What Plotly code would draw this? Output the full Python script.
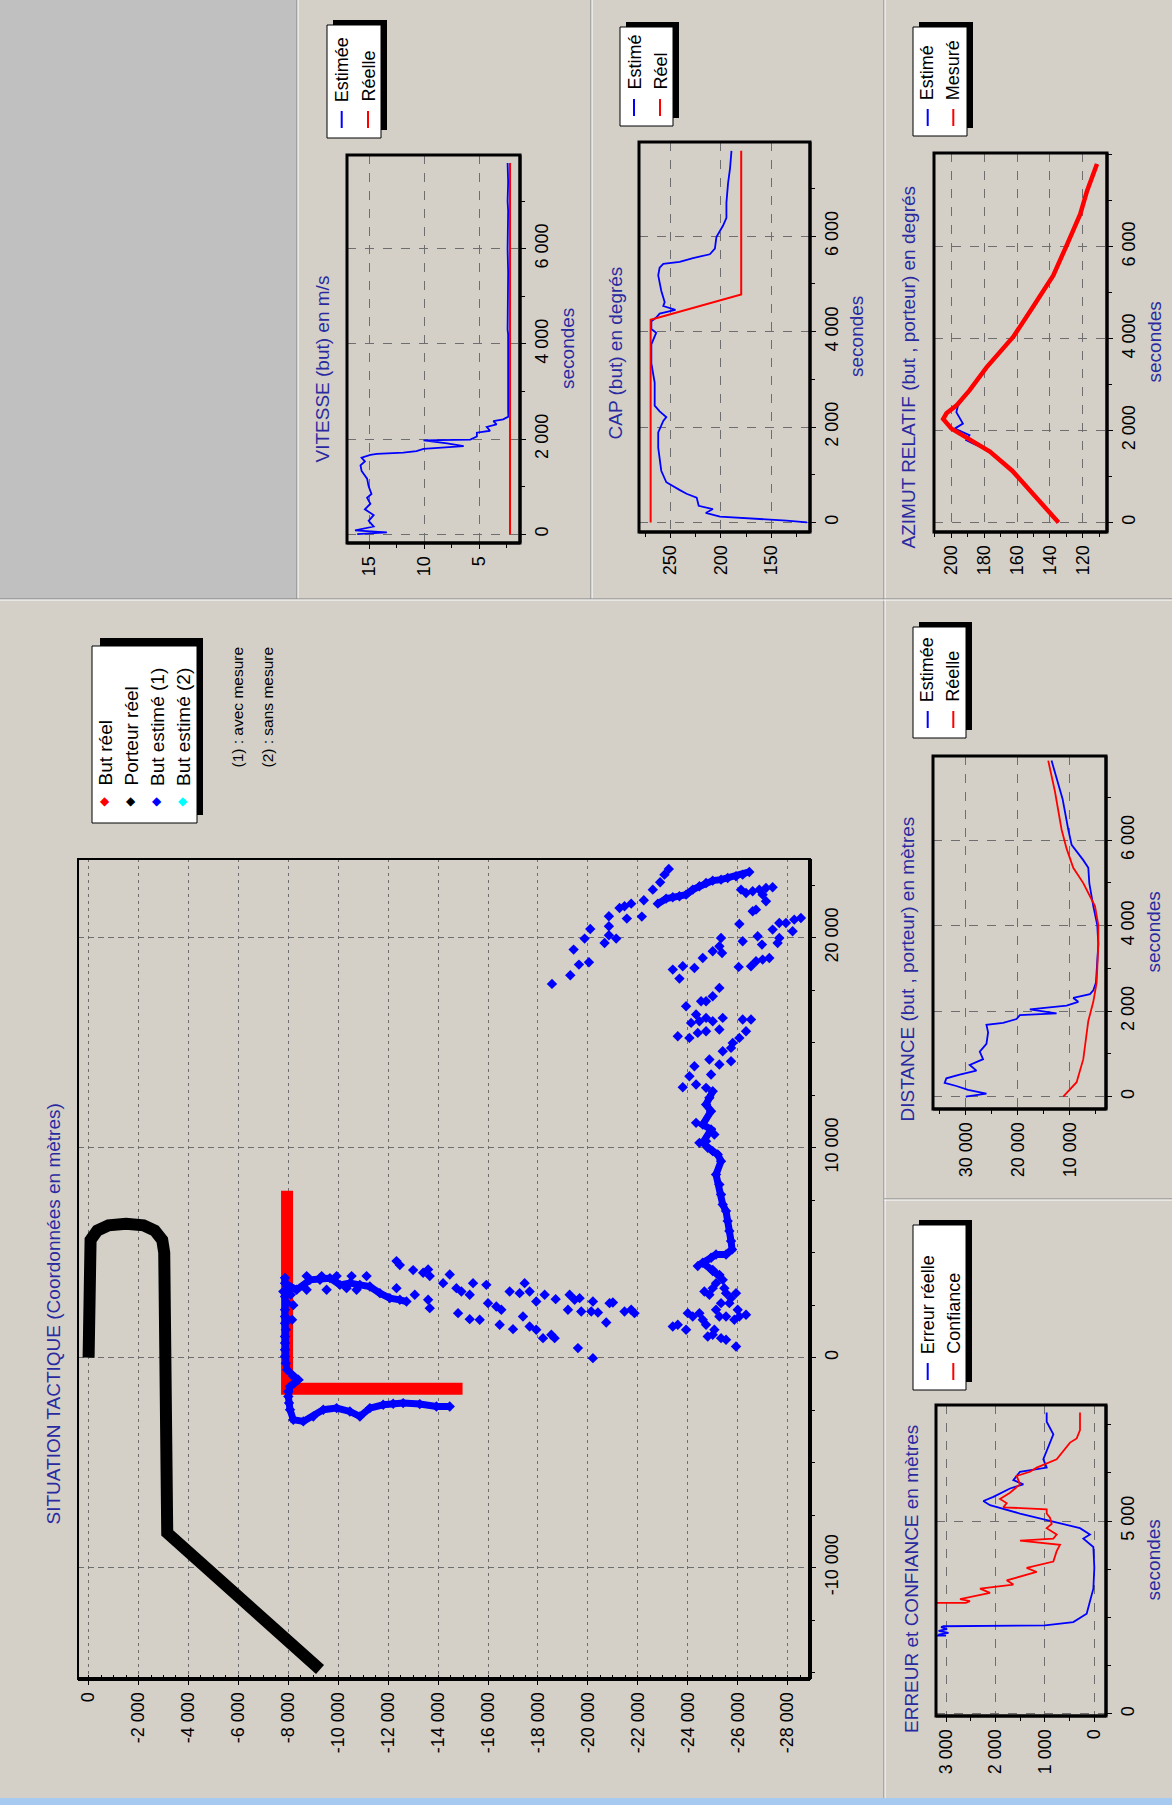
import plotly.graph_objects as go

W, H = 1172, 1805
BG = "#d4d0c8"
TBLUE = "#2a2aa0"
FONT = "Liberation Sans, Arial, sans-serif"

# ================= DATA =================
# --- Main panel : SITUATION TACTIQUE (metres) ---
# *_y : horizontal display axis ; *_x : vertical display axis
porteur_y = [0, 0, -80, -350, -800, -1500, -2200, -2650, -2950, -3030, -3030, -3150, -9270]
porteur_x = [0, 5000, 5600, 6050, 6300, 6380, 6300, 6050, 5600, 5000, -8000, -8350, -14860]

but_reel_y = [-7950, -7950, -14980]
but_reel_x = [7950, -1485, -1485]

# dense parts of the estimated track (None = break)
trail_y = [-7868, -7868, -7950, -7868, -7868, -7868, -7900, -7868, -7900, -7950, -8201, -8401,
           -8068, -8001, -8068, -8201, -8601, -9001, -9401, -9934, -10467, -10867, -11267,
           -11801, -12600, -13266, -13933, -14466, None,
           -7868, -8334, -8868, -9268, -9668, -10067, -10467, -10867, -11267, -11667, -12067,
           -12467, -12733, None,
           -25266, -25000, -24600, -24933, -25133, -25533, -25773, -25733, -25666, -25600,
           -25533, -25400, -25333, -25266, -25133, -25333, -25200, -25000, -24800, -24600,
           -24933, -24600, -24933, -24733, -24866, -25000, None,
           -22800, -23133, -23400, -23667, -23933, -24200, -24466, -24733, -25000, -25333,
           -25600, -25933, -26200, -26466]
trail_x = [3800, 3546, 3229, 2911, 2277, 1642, 1007, 372, -263, -580, -897, -1056,
           -1374, -1850, -2484, -2960, -3040, -2802, -2484, -2405, -2564, -2802, -2405,
           -2246, -2167, -2215, -2326, -2326, None,
           3546, 3229, 3705, 3705, 3784, 3467, 3546, 3467, 3388, 3070, 2832,
           2753, 2673, None,
           3883, 4121, 4518, 4756, 4915, 4915, 5153, 5550, 6026, 6502,
           6978, 7295, 7771, 8247, 8724, 9358, 9676, 9834, 9993, 10231,
           10866, 11104, 11739, 12056, 12374, 12691, None,
           21626, 21864, 21927, 21975, 22054, 22292, 22451, 22610, 22721, 22768,
           22848, 22927, 23007, 23133]

but_est_y = [
    -7868, -7868, -7950, -8100, -7868, -7950, -7868, -7868, -7868, -7900, -7868, -7868, -7868, -7868,
    -7900, -7950, -8201, -8401, -8250, -8068, -8001, -8001, -8030, -8068, -8201, -8601, -9001, -9401,
    -9934, -10467, -10867, -11267, -11801, -12200, -12600, -13266, -13933, -14466, -8200, -8150,
    -7801, -8334, -8734, -8868, -9268, -9534, -9668, -10067, -10334, -10467, -10734, -10867, -11267,
    -11667, -12067, -12467, -12733, -8735, -9335, -9935, -10535, -11134,
    -12333, -12467, -13000, -13400, -13600, -13666, -14466, -12333, -13066, -13600, -13666, -14200,
    -14733, -14933, -15266, -14799, -15266, -15666, -15399, -15932, -15999, -16332, -16532, -16466,
    -16999, -16866, -17266, -17466, -17666, -17932, -17399, -17666, -17932,
    -18268, -18708, -18201, -18535, -18668, -19268, -19468, -19668, -19201, -19734, -20201, -20134,
    -20401, -20734, -20867, -21001, -21467, -21734, -21867, -19601, -20201,
    -23400, -23600, -23933, -24000, -24200, -24466, -24600, -24733, -24666, -24866, -25000, -25133,
    -25000, -25266, -25400, -25466, -25533, -25733, -25933, -25333, -25133, -25266, -25533, -25866,
    -26066, -26333, -26000, -25666, -24800, -25000, -25333, -25533, -25933, -25066,
    -18561, -19294, -19641, -20041, -19428, -19868, -20094, -20667, -20841, -21134, -20841, -20841,
    -21560, -22160, -21267, -21467, -21734, -22240, -22600, -22893, -23067, -23240,
    -22800, -23133, -23400, -23667, -23933, -24200, -24466, -24733, -25000, -25333, -25600, -25933,
    -26200, -26466, -26133, -26333, -26600, -26866, -27133, -27399, -26999, -27133, -26600, -26733,
    -27666, -27932, -28265, -28532, -28199, -27666, -27399, -27599, -27266, -26999, -26733, -26533,
    -26799, -26972, -26200, -26066, -26039,
    -25333, -25266, -25373, -25000, -24600, -24266, -23800, -23400, -23667,
    -25266, -25000, -24733, -24533, -23933, -24333, -24133, -24466, -24733, -25000, -25400, -25266,
    -24733, -24400, -24066, -23600, -26200, -26533, -26333, -26066, -25800, -25733, -25400, -24866,
    -25266, -25733, -24266, -24933, -24066, -24333, -24733, -23800, -25000, -24866, -24733, -24933,
    -24333, -24600, -24933, -25066, -24733, -24466, -24800, -25000, -25200, -25333, -25133, -25266,
    -25333, -25400, -25533, -25600, -25666, -25733, -25773, -25533, -25133, -24933, -24600, -24400,
    -25000, -25266,
]
but_est_x = [
    3800, 3546, 3229, 3000, 2911, 2600, 2277, 1959, 1642, 1324, 1007, 690, 372, 55,
    -263, -580, -897, -1056, -1215, -1374, -1612, -1850, -2167, -2484, -2960, -3040, -2802, -2484,
    -2405, -2564, -2802, -2405, -2246, -2200, -2167, -2215, -2326, -2326, 2500, 1800,
    3149, 3229, 3229, 3705, 3705, 3229, 3784, 3467, 3308, 3546, 3229, 3467, 3388,
    3070, 2832, 2753, 2673, 3883, 3883, 3883, 3883, 3883,
    4597, 4407, 4169, 4042, 4201, 3883, 3962, 3308, 2991, 2753, 2356, 3546,
    3308, 3149, 2991, 2118, 1832, 1800, 3546, 3467, 2594, 2435, 2277, 1562,
    1356, 3149, 3070, 3546, 3149, 2673, 1959, 1483, 1324,
    2991, 2784, 928, 1086, 928, 2991, 2753, 2832, 2277, 2197, 2673, 2197,
    2150, 1674, 2594, 2626, 2197, 2277, 2118, 452, -25,
    1483, 1562, 1324, 2118, 1959, 2118, 1800, 1562, 3149, 2991, 3308, 3546,
    4181, 3943, 3705, 3308, 3070, 2832, 3070, 2594, 2277, 1959, 1959, 1800,
    1959, 2039, 2277, 2594, 1007, 1086, 928, 848, 531, 1324,
    17801, 18214, 18722, 18833, 19436, 19960, 20420, 19753, 20118, 19960, 20547, 21023,
    20912, 21007, 21420, 21499, 21626, 21785, 22292, 22641, 23007, 23276,
    21626, 21864, 21927, 21975, 22054, 22292, 22451, 22610, 22721, 22768, 22848, 22927,
    23007, 23133, 22292, 22134, 22213, 22292, 22372, 22403, 22054, 21737, 21261, 21340,
    20705, 20705, 20864, 20943, 20309, 19991, 20388, 19753, 19039, 18960, 18880, 18642,
    20071, 19674, 19833, 20658, 18611,
    19991, 19594, 19277, 19356, 19039, 18563, 18642, 18484, 18055,
    17611, 17214, 16976, 16976, 16738, 16341, 15944, 16024, 16182, 16024, 16182, 15627,
    15548, 15468, 15230, 15310, 16103, 16103, 15548, 15230, 14992, 14754, 14595, 14199,
    13961, 14119, 13881, 13485, 13405, 13008, 12850, 12882, 12691, 12374, 12056, 11739,
    11183, 11104, 10866, 10628, 10311, 10231, 9993, 9834, 9676, 9358, 8724, 8247,
    7771, 7295, 6978, 6502, 6026, 5550, 5153, 4915, 4915, 4756, 4518, 4359,
    4121, 3883,
]

main_h_ticks = [0, -2000, -4000, -6000, -8000, -10000, -12000, -14000, -16000, -18000,
                -20000, -22000, -24000, -26000, -28000]
main_v_ticks = [-10000, 0, 10000, 20000]

# --- VITESSE (but) en m/s ---
vit_t = [0, 40, 80, 161, 282, 402, 523, 640, 765, 845, 1006, 1167, 1328, 1449, 1530, 1610, 1666,
         1690, 1715, 1747, 1795, 1851, 1908, 1972, 1988, 2053, 2133, 2174, 2254, 2310, 2375, 2415,
         2471, 2600, 4200, 4300, 5500, 6000, 6800, 7000, 7400, 7600, 7800]
vit_est = [16.1, 13.4, 16.3, 14.6, 15.06, 14.6, 15.4, 14.9, 15.2, 14.8, 15.06, 15.2, 15.7, 15.8,
           15.4, 15.7, 14.9, 14.3, 11.9, 10.7, 10.06, 6.4, 7.9, 10.06, 5.8, 5.2, 5.2, 4.0, 4.3,
           3.4, 3.7, 2.8, 2.33, 2.35, 2.35, 2.4, 2.35, 2.4, 2.35, 2.4, 2.35, 2.4, 2.4]
vit_reel_t = [0, 7800]
vit_reel = [2.18, 2.18]

# --- CAP (but) en degres ---
cap_t = [0, 40, 120, 200, 281, 350, 522, 602, 683, 843, 1084, 1325, 1566, 1887, 2128, 2208, 2329,
         2449, 2931, 3332, 3734, 3975, 4055, 4216, 4296, 4376, 4457, 4537, 4617, 4858, 5180, 5340,
         5420, 5460, 5541, 5621, 5741, 5982, 6223, 6384, 6705, 7107, 7428, 7789]
cap_est = [115, 135, 201, 215, 208, 222, 224, 234, 241, 254, 259, 260.6, 262, 262, 257, 254, 260.6,
           265.5, 265.5, 268.8, 268.8, 264, 268.8, 268.8, 264, 260.6, 245, 257, 255.6, 259, 262,
           260.6, 257, 240.8, 227.6, 211, 206, 204.5, 197.9, 194.6, 194.6, 193, 191, 189.6]
cap_reel_t = [0, 4250, 4778, 7789]
cap_reel = [269.5, 269.5, 180, 180]

# --- AZIMUT RELATIF (but, porteur) en degres ---
azi_t = [0, 541, 1125, 1541, 1791, 2041, 2250, 2375, 2541, 2874, 3374, 4040, 4707, 5374, 6041,
         6707, 7207, 7800]
azi_mes = [134.8, 148, 163, 176.6, 188.8, 200, 205, 203, 197, 189, 178.6, 162.3, 150, 138, 129.7,
           121.6, 117.5, 111.4]
azi_est_t = [0, 541, 1125, 1400, 1541, 1700, 1791, 1900, 2041, 2150, 2291, 2400, 2541, 2874, 3374,
             4040, 4707, 5374, 6041, 6707, 7207, 7800]
azi_est = [134.8, 148, 163, 172, 176, 186, 191, 189, 198, 193, 195, 197, 196, 189, 178.6, 162.3,
           150, 138, 129.7, 121.6, 117.5, 111.4]

# --- DISTANCE (but, porteur) en metres ---
dist_t = [0, 72, 161, 251, 322, 430, 519, 609, 743, 878, 1057, 1236, 1504, 1684, 1728, 1818, 1907,
          1952, 2042, 2131, 2221, 2310, 2400, 2489, 2669, 3565, 4013, 4460, 4997, 5355, 5534, 5893,
          6251, 6967, 7862]
dist_est = [30000, 26026, 29551, 31795, 34038, 33718, 31154, 27949, 29231, 26667, 27308, 26026,
            25705, 26026, 22821, 20256, 19615, 12564, 17692, 10641, 8397, 9359, 6154, 5513, 5000,
            4553, 4746, 5514, 6282, 6474, 7436, 9679, 10320, 11410, 13526]
dist_reel_t = [0, 340, 878, 1773, 2221, 2669, 3565, 4013, 4460, 4997, 5355, 5803, 6251, 7146, 7862]
dist_reel = [11283, 8717, 7437, 6475, 5514, 4873, 4553, 4553, 5193, 7437, 9359, 10641, 11603,
             12885, 14167]

# --- ERREUR et CONFIANCE en metres ---
err_t = [0, 2000, 2030, 2056, 2100, 2150, 2200, 2250, 2272, 2294, 2380, 2597, 2921, 3246, 3787,
         4328, 4544, 4652, 4815, 4977, 5194, 5410, 5518, 5626, 5843, 5951, 6059, 6276, 6384, 6600,
         7033, 7249, 7574, 7812]
err_reelle = [6000, 6000, 3000, 3156, 2950, 3150, 2980, 3100, 3050, 998, 425, 155, 88, 20, 0, 20,
              222, 88, 290, 829, 1504, 2110, 2245, 2043, 1706, 1436, 1638, 1504, 964, 1032, 897,
              829, 964, 964]
conf_t = [0, 2860, 2880, 2921, 2975, 3138, 3246, 3354, 3462, 3679, 3787, 3949, 4220, 4382, 4490,
          4544, 4652, 4815, 4923, 5086, 5194, 5300, 5356, 5464, 5572, 5734, 5951, 6168, 6276, 6384,
          6600, 6817, 7033, 7141, 7357, 7682, 7812]
confiance = [6000, 6000, 2600, 2515, 2717, 2110, 2313, 1638, 1773, 1166, 1369, 829, 762, 695, 1504,
             829, 762, 964, 863, 897, 964, 964, 1841, 1773, 1908, 1706, 1504, 1571, 1301, 1166, 762,
             627, 492, 357, 290, 290, 290]

# ================= HELPERS =================
def fmt(v):
    return f"{v:,}".replace(",", " ")

def PX(x):
    return x / W

def PY(y):
    return 1 - y / H

fig = go.Figure()
layout = {}
shapes = []
annotations = []

def axis_names(i):
    s = "" if i == 1 else str(i)
    return "xaxis" + s, "yaxis" + s, "x" + s, "y" + s

def add_panel(i, box, hrange, vrange, htick, vtick, hminor, vminor, hdash, vdash,
              hminor_in=False):
    l, t, r, b = box
    xa, ya, xr, yr = axis_names(i)
    common = dict(showgrid=True, gridcolor="#6e6e6e", gridwidth=1, zeroline=False,
                  showline=False, ticks="outside", ticklen=5, tickwidth=1, tickcolor="black",
                  tickfont=dict(family=FONT, size=18, color="black"), tickangle=-90,
                  fixedrange=True)
    layout[xa] = dict(common, domain=[PX(l), PX(r)], range=hrange, anchor=yr,
                      tickvals=htick, ticktext=[fmt(v) for v in htick], griddash=hdash,
                      side="bottom",
                      minor=dict(dtick=hminor, ticks="inside" if hminor_in else "outside",
                                 ticklen=4, tickcolor="black", showgrid=False))
    layout[ya] = dict(common, domain=[PY(b), PY(t)], range=vrange, anchor=xr,
                      tickvals=vtick, ticktext=[fmt(v) for v in vtick], griddash=vdash,
                      side="right",
                      minor=dict(dtick=vminor, ticks="outside", ticklen=4, tickcolor="black",
                                 showgrid=False))
    return xr, yr

def box_shapes(xr, yr, thin, thick_w):
    xd, yd = xr + " domain", yr + " domain"
    shapes.append(dict(type="rect", xref=xd, yref=yd, x0=0, x1=1, y0=0, y1=1,
                       line=dict(color="black", width=thin), layer="above"))
    shapes.append(dict(type="line", xref=xd, yref=yd, x0=0, x1=1, y0=0, y1=0,
                       line=dict(color="black", width=thick_w), layer="above"))
    shapes.append(dict(type="line", xref=xd, yref=yd, x0=1, x1=1, y0=0, y1=1,
                       line=dict(color="black", width=thick_w), layer="above"))

def rtext(text, x, y, size=18, color="black", xanchor="center", yanchor="bottom"):
    annotations.append(dict(text=text, x=PX(x), y=PY(y), xref="paper", yref="paper",
                            showarrow=False, textangle=-90, xanchor=xanchor, yanchor=yanchor,
                            font=dict(family=FONT, size=size, color=color)))

def rect(x0, y0, x1, y1, fill, line=None, lw=0):
    shapes.append(dict(type="rect", xref="paper", yref="paper", x0=PX(x0), x1=PX(x1),
                       y0=PY(y1), y1=PY(y0), fillcolor=fill,
                       line=dict(color=line or fill, width=lw), layer="below"))

def pline(x0, y0, x1, y1, color, w=1, layer="above"):
    shapes.append(dict(type="line", xref="paper", yref="paper", x0=PX(x0), x1=PX(x1),
                       y0=PY(y0), y1=PY(y1), line=dict(color=color, width=w), layer=layer))

# ================= BACKGROUND / PANELS =================
rect(0, 0, 297, 599, "#c0c0c0")
for (x0, y0, x1, y1) in [(297, 0, 297, 599), (591, 0, 591, 599), (884, 0, 884, 1800),
                         (0, 599, 1172, 599), (884, 1199, 1172, 1199)]:
    pline(x0, y0, x1, y1, "#808080", 1, "below")
    pline(x0 + (1 if x0 == x1 else 0), y0 + (1 if y0 == y1 else 0),
          x1 + (1 if x0 == x1 else 0), y1 + (1 if y0 == y1 else 0), "#ffffff", 1, "below")
rect(0, 1798, 1172, 1805, "#a6caf0")

# ================= MAIN PANEL =================
xr, yr = add_panel(1, (78, 859, 810, 1679), [424, -28896], [-15310, 23752],
                   main_h_ticks, main_v_ticks, 500, 2500, "3px,4px", "6px,4px",
                   hminor_in=True)
box_shapes(xr, yr, 2, 4)
fig.add_trace(go.Scatter(x=porteur_y, y=porteur_x, mode="lines", xaxis=xr, yaxis=yr,
                         line=dict(color="black", width=12), showlegend=False))
fig.add_trace(go.Scatter(x=but_reel_y, y=but_reel_x, mode="lines", xaxis=xr, yaxis=yr,
                         line=dict(color="#ff0000", width=12), showlegend=False))
fig.add_trace(go.Scatter(x=trail_y, y=trail_x, mode="lines", xaxis=xr, yaxis=yr,
                         line=dict(color="#0000ff", width=7), connectgaps=False,
                         showlegend=False))
fig.add_trace(go.Scatter(x=but_est_y, y=but_est_x, mode="markers", xaxis=xr, yaxis=yr,
                         marker=dict(symbol="diamond", size=8, color="#0000ff",
                                     line=dict(width=0)), showlegend=False))
rtext("SITUATION TACTIQUE (Coordonnées en mètres)", 53, 1527, 19, TBLUE)

# main legend
rect(100, 638, 203, 815, "black")
rect(92, 646, 197, 823, "white", "black", 1)
leg_items = [("But réel", "#ff0000"), ("Porteur réel", "black"),
             ("But estimé (1)", "#0000ff"), ("But estimé (2)", "#00ffff")]
for k, (lab, col) in enumerate(leg_items):
    cx = 105 + k * 26
    annotations.append(dict(text="◆", x=PX(cx), y=PY(801), xref="paper", yref="paper",
                            showarrow=False, xanchor="center", yanchor="middle",
                            font=dict(family="DejaVu Sans", size=12, color=col)))
    rtext(lab, cx, 788, 19)
rtext("(1) : avec mesure", 237, 770, 15.5)
rtext("(2) : sans mesure", 267, 770, 15.5)

# ================= SUB PANELS =================
def legend_box(x0, y0, x1, y1, cols, labels, line_y0, line_y1, text_y):
    rect(x0 + 6, y0 - 5, x1 + 6, y1 - 8, "black")
    rect(x0, y0, x1, y1, "white", "black", 1)
    for cx, lab, col in zip(cols, labels, ["#0000ff", "#ff0000"]):
        pline(cx, line_y0, cx, line_y1, col, 2)
        rtext(lab, cx, text_y, 18)

panels = [
    (2, (347, 155, 520, 543), [17.03, 1.27], [-185, 7970], [15, 10, 5], [0, 2000, 4000, 6000],
     2.5, 1000, (vit_t, vit_est), (vit_reel_t, vit_reel), 2, "VITESSE (but) en m/s", 322, 465,
     (327, 25, 381, 138), (341.7, 368), ("Estimée", "Réelle")),
    (3, (639, 142, 810, 532), [281, 112], [-200, 7974], [250, 200, 150], [0, 2000, 4000, 6000],
     25, 1000, (cap_t, cap_est), (cap_reel_t, cap_reel), 2, "CAP (but) en degrés", 615, 442,
     (620, 27, 673, 126), (634, 660), ("Estimé", "Réel")),
    (4, (934, 153, 1107, 532), [210.6, 105.3], [-208, 8038], [200, 180, 160, 140, 120],
     [0, 2000, 4000, 6000], 10, 1000, (azi_est_t, azi_est), (azi_t, azi_mes), 4.5,
     "AZIMUT RELATIF (but , porteur) en degrés", 908, 551,
     (913, 27, 967, 136), (927.7, 953.3), ("Estimé", "Mesuré")),
    (5, (933, 756, 1106, 1109), [36282, 3077], [-287, 7970], [30000, 20000, 10000],
     [0, 2000, 4000, 6000], 5000, 1000, (dist_t, dist_est), (dist_reel_t, dist_reel), 1.8,
     "DISTANCE (but , porteur) en mètres", 907, 1124,
     (913, 627, 966, 738), (927.7, 953.3), ("Estimée", "Réelle")),
    (6, (936, 1405, 1106, 1716), [3203, -236], [-54, 8007], [3000, 2000, 1000, 0],
     [0, 5000], 500, 1250, (err_t, err_reelle), (conf_t, confiance), 1.8,
     "ERREUR et CONFIANCE en mètres", 911, 1735,
     (913, 1225, 966, 1390), (927.7, 953.3), ("Erreur réelle", "Confiance")),
]
for (i, box, hr, vr, ht, vt, hm, vm, blue, red, redw, title, tx, ty, lbox, lcols,
     llabs) in panels:
    xr, yr = add_panel(i, box, hr, vr, ht, vt, hm, vm, "dash", "dash")
    box_shapes(xr, yr, 3, 3)
    fig.add_trace(go.Scatter(x=blue[1], y=blue[0], mode="lines", xaxis=xr, yaxis=yr,
                             line=dict(color="#0000ff", width=1.8), showlegend=False))
    fig.add_trace(go.Scatter(x=red[1], y=red[0], mode="lines", xaxis=xr, yaxis=yr,
                             line=dict(color="#ff0000", width=redw), showlegend=False))
    rtext(title, tx, ty, 19, TBLUE)
    l, t, r, b = box
    rtext("secondes", r + 47, (t + b) / 2, 19, TBLUE, yanchor="middle")
    lx0, ly0, lx1, ly1 = lbox
    legend_box(lx0, ly0, lx1, ly1, lcols, llabs, ly1 - 27, ly1 - 10, ly1 - 34)

fig.update_layout(
    width=W, height=H, autosize=False,
    margin=dict(l=0, r=0, t=0, b=0, pad=0),
    paper_bgcolor=BG, plot_bgcolor=BG,
    showlegend=False,
    shapes=shapes, annotations=annotations,
    font=dict(family=FONT, size=18, color="black"),
    **layout,
)
fig.write_html("out.html",
               config={"displayModeBar": False, "staticPlot": True},
               post_script="document.body.style.margin='0px';"
                           "document.body.style.overflow='hidden';")
